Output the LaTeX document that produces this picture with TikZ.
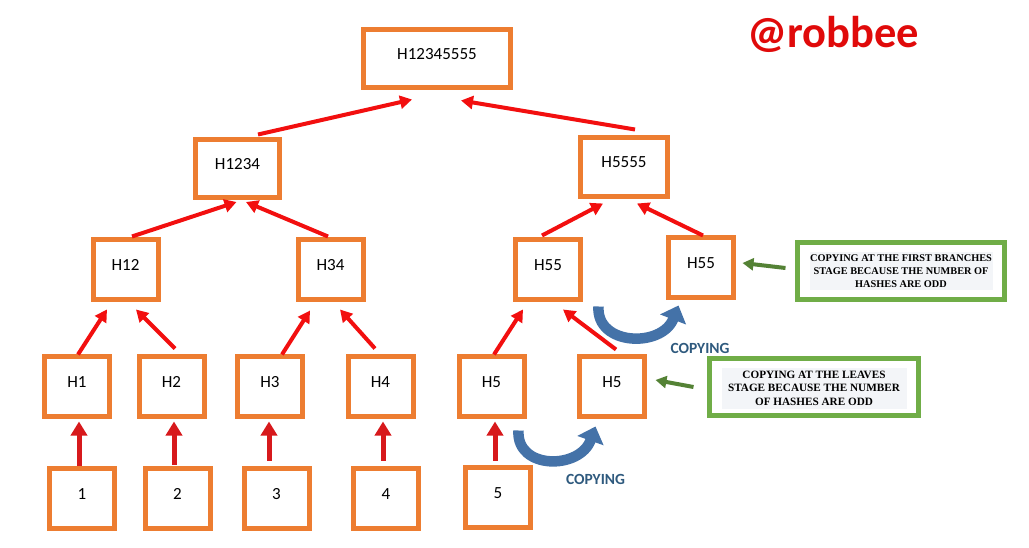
\documentclass[tikz,border=0pt]{standalone}
\usepackage{fontspec}
\setmainfont{Carlito}
\newfontfamily\gfont{Liberation Serif}
\usetikzlibrary{arrows.meta,calc}
\definecolor{orangeC}{HTML}{ED7D31}
\definecolor{redA}{HTML}{F20F0F}
\definecolor{redV}{HTML}{D7191C}
\definecolor{greenB}{HTML}{70AD47}
\definecolor{greenA}{HTML}{548235}
\definecolor{blueA}{HTML}{4472A8}
\definecolor{copyC}{HTML}{2F5A7E}
\definecolor{robC}{HTML}{E00A0A}
\definecolor{grayF}{HTML}{F3F5F8}
\begin{document}
\begin{tikzpicture}[x=1pt,y=-1pt,
  hbox/.style={draw=orangeC, line width=5pt, fill=white, inner sep=0pt,
    minimum width=65pt, minimum height=60pt,
    font=\fontsize{17}{20}\selectfont, text height=12pt, text depth=10pt},
  gbox/.style={draw=greenB, line width=5pt, fill=white, inner sep=0pt},
  gtext/.style={fill=grayF, align=center, inner sep=0pt},
  redarrow/.style={draw=redA, line width=4pt, -{Triangle[length=12pt,width=13pt]}},
  redvert/.style={draw=redV, line width=5pt, -{Triangle[length=14pt,width=16pt]}},
  greenarrow/.style={draw=greenA, line width=4pt, -{Triangle[length=11pt,width=12pt]}},
  bluearrow/.style={draw=blueA, line width=10.5pt, -{Triangle[length=15pt,width=27pt]}},
  copylabel/.style={text=copyC, font=\bfseries\fontsize{15.5}{18}\selectfont},
]
\useasboundingbox (0,0) rectangle (1029,548);

% boxes
\node[hbox, minimum width=147pt, minimum height=58pt] (top) at (437,58.5) {H12345555};
\node[hbox, minimum width=84pt, minimum height=58pt] (h1234) at (237.5,168.5) {H1234};
\node[hbox, minimum width=87pt, minimum height=59pt] (h5555) at (624,167) {H5555};
\node[hbox] (h12) at (125.5,269.5) {H12};
\node[hbox] (h34) at (330.5,269.5) {H34};
\node[hbox] (h55a) at (548,270) {H55};
\node[hbox] (h55b) at (701,267.5) {H55};
\node[hbox] (h1) at (77,386.5) {H1};
\node[hbox] (h2) at (171.5,386.5) {H2};
\node[hbox] (h3) at (270,386.5) {H3};
\node[hbox] (h4) at (380.5,386.5) {H4};
\node[hbox] (h5a) at (491.5,386.5) {H5};
\node[hbox] (h5b) at (612,386.5) {H5};
\node[hbox] (l1) at (82,498.5) {1};
\node[hbox] (l2) at (177.5,498.5) {2};
\node[hbox] (l3) at (276.5,498.5) {3};
\node[hbox] (l4) at (386,498.5) {4};
\node[hbox] (l5) at (498,497.5) {5};

% red diagonal arrows
\draw[redarrow] ($(h1234.north)+(20.5,-2.5)$) -- ($(top.south)+(-25,9.5)$);
\draw[redarrow] ($(h5555.north)+(11,-5.5)$) -- ($(top.south)+(24,10.5)$);
\draw[redarrow] ($(h12.north)+(6.5,-0.5)$) -- ($(h1234.south)+(-1,2)$);
\draw[redarrow] ($(h34.north)+(-2.5,-0.5)$) -- ($(h1234.south)+(8.5,2)$);
\draw[redarrow] ($(h55a.north)+(-6,-2)$) -- ($(h5555.south)+(-21,4.5)$);
\draw[redarrow] ($(h55b.north)+(2,0.5)$) -- ($(h5555.south)+(13,4.5)$);
\draw[redarrow] ($(h1.north)+(1,0.5)$) -- ($(h12.south)+(-18.5,7.5)$);
\draw[redarrow] ($(h2.north)+(3.5,-5.5)$) -- ($(h12.south)+(10.5,7.5)$);
\draw[redarrow] ($(h3.north)+(12,0.5)$) -- ($(h34.south)+(-20.5,8.5)$);
\draw[redarrow] ($(h4.north)+(-5.5,-5.5)$) -- ($(h34.south)+(9.5,7.5)$);
\draw[redarrow] ($(h5a.north)+(2.5,0.5)$) -- ($(h55a.south)+(-25,7)$);
\draw[redarrow] ($(h5b.north)+(4,-4.5)$) -- ($(h55a.south)+(15,7)$);

% red vertical arrows
\draw[redvert] ($(l1.north)+(-3,0)$) -- ($(h1.south)+(2,2.5)$);
\draw[redvert] ($(l2.north)+(-3.5,-1)$) -- ($(h2.south)+(2.5,2.5)$);
\draw[redvert] ($(l3.north)+(-7.5,-5.5)$) -- ($(h3.south)+(-1,2.5)$);
\draw[redvert] ($(l4.north)+(-3,-5.5)$) -- ($(h4.south)+(2.5,2.5)$);
\draw[redvert] ($(l5.north)+(-3,-4.5)$) -- ($(h5a.south)+(3.5,2.5)$);

% blue copying arrows
\draw[bluearrow] ($(h5a.south east)+(-8,11.5)$) .. controls (516,470) and (580,470) .. ($(h5b.south west)+(18.5,7.5)$);
\draw[bluearrow] ($(h55a.south east)+(15.5,4)$) .. controls (596,346) and (662,348) .. ($(h55b.south west)+(12.5,5.5)$);
\node[copylabel] (c1) at (595.5,479) {COPYING};
\node[copylabel] (c2) at (700,348) {COPYING};

% green note boxes
\node[gbox, minimum width=207pt, minimum height=57pt] (g1) at (901,271) {};
\node[gtext, minimum width=183pt, minimum height=38pt,
  font=\gfont\bfseries\fontsize{10.3}{13}\selectfont] (t1) at (g1.center)
  {COPYING AT THE FIRST BRANCHES\\STAGE BECAUSE THE NUMBER OF\\HASHES ARE ODD};
\node[gbox, minimum width=209pt, minimum height=57pt] (g2) at (814,387) {};
\node[gtext, minimum width=185pt, minimum height=41pt,
  font=\gfont\bfseries\fontsize{11.2}{13.5}\selectfont] (t2) at ($(g2.center)+(0,1)$)
  {COPYING AT THE LEAVES\\STAGE BECAUSE THE NUMBER\\OF HASHES ARE ODD};
\draw[greenarrow] ($(g1.west)+(-9.5,-3)$) -- ($(h55b.east)+(6.5,-4.5)$);
\draw[greenarrow] ($(g2.west)+(-13.5,0)$) -- ($(h5b.east)+(8.5,-6.5)$);

% watermark
\node[anchor=base, text=robC, font=\bfseries\fontsize{44.5}{50}\selectfont] (rob) at (833.5,48) {@robbee};
\end{tikzpicture}
\end{document}
